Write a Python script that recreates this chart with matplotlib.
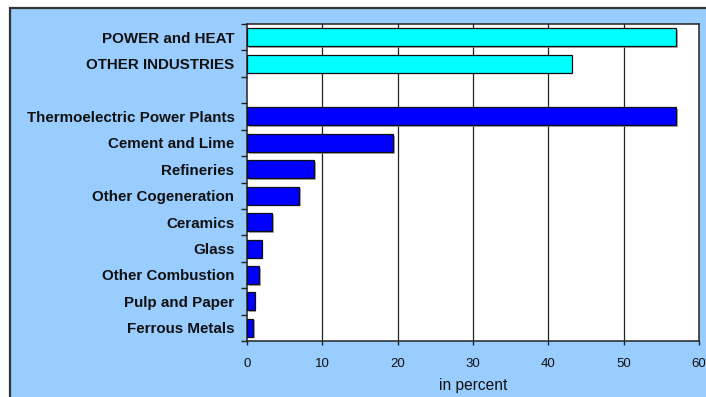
import matplotlib
matplotlib.use('Agg')
import matplotlib.pyplot as plt
import matplotlib.patheffects as pe
from matplotlib.patches import Rectangle

# totals by group
summary_labels = ["POWER and HEAT", "OTHER INDUSTRIES"]
summary_values = [57.0, 43.1]

# individual sectors
sector_labels = ["Thermoelectric Power Plants", "Cement and Lime", "Refineries",
                 "Other Cogeneration", "Ceramics", "Glass", "Other Combustion",
                 "Pulp and Paper", "Ferrous Metals"]
sector_values = [57.0, 19.4, 8.9, 6.9, 3.3, 1.95, 1.6, 1.0, 0.85]

x_ticks = [0, 10, 20, 30, 40, 50, 60]
x_label = "in percent"

plt.rcParams['font.family'] = ['Liberation Sans', 'DejaVu Sans']

fig = plt.figure(figsize=(7.06, 3.97), dpi=100)
fig.patch.set_facecolor('white')

# light blue chart area with dark frame (runs off the right and bottom)
W, H = 706, 397
bg = Rectangle((10 / W, -0.1), 1.2, 1 - 8 / H + 0.1, transform=fig.transFigure,
               facecolor='#99CCFF', edgecolor='#333333', linewidth=1.6, zorder=-1)
fig.patches.append(bg)

ax = fig.add_axes([247 / W, 1 - 341 / H, (699 - 247) / W, (341 - 24) / H])
ax.set_zorder(1)
ax.set_facecolor('white')

labels = summary_labels + [""] + sector_labels
n = len(labels)
sum_pos = list(range(len(summary_labels)))
sec_pos = list(range(len(summary_labels) + 1, n))

shadow = [pe.SimplePatchShadow(offset=(1.2, -1.2), shadow_rgbFace='#888888', alpha=0.7),
          pe.Normal()]

for x in x_ticks[1:-1]:
    ax.axvline(x, color='#222222', linewidth=0.9, zorder=1)

b1 = ax.barh(sum_pos, summary_values, height=0.68, color='#00FFFF',
             edgecolor='#111111', linewidth=0.9, zorder=3)
b2 = ax.barh(sec_pos, sector_values, height=0.68, color='#0000FF',
             edgecolor='#111111', linewidth=0.9, zorder=3)
for bar in list(b1) + list(b2):
    bar.set_path_effects(shadow)

ax.set_xlim(0, 60)
ax.set_ylim(n - 0.5, -0.5)
ax.set_xticks(x_ticks)
ax.set_xticklabels([str(v) for v in x_ticks], fontsize=9.5)
ax.tick_params(axis='x', direction='out', length=3.2, width=1, pad=9, color='#222222',
               labelcolor='#111111')

# tick marks between categories, labels at centres
ax.set_yticks([i - 0.5 for i in range(n + 1)])
ax.set_yticklabels([])
ax.tick_params(axis='y', which='major', direction='out', length=4, width=1, color='#222222')
ax.set_yticks(range(n), minor=True)
ax.set_yticklabels(labels, minor=True, fontsize=10.9, fontweight='bold', color='#111111')
ax.tick_params(axis='y', which='minor', length=0, pad=9)

for side in ['left', 'bottom', 'top', 'right']:
    ax.spines[side].set_color('#222222')
    ax.spines[side].set_linewidth(1.1)

ax.set_xlabel(x_label, fontsize=11.2, labelpad=6, color='#111111')

fig.savefig('out.png', dpi=100)
